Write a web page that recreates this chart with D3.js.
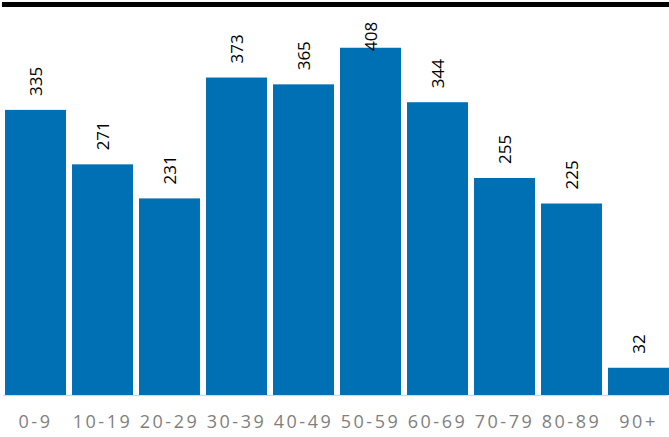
<!DOCTYPE html>
<html>
<head>
<meta charset="utf-8">
<script src="https://cdn.jsdelivr.net/npm/d3@7"></script>
<style>
  html, body { margin: 0; padding: 0; background: #fff; }
  svg { display: block; }
</style>
</head>
<body>
<svg id="chart" width="669" height="437"></svg>
<script>
const categories = ["0-9", "10-19", "20-29", "30-39", "40-49", "50-59", "60-69", "70-79", "80-89", "90+"];
const values = [335, 271, 231, 373, 365, 408, 344, 255, 225, 32];
const yDomain = [0, 450];

const W = 669, H = 437;
const svg = d3.select("#chart");

const x = d3.scaleBand()
  .domain(categories)
  .range([2, 672])
  .paddingInner(0.09)
  .paddingOuter(0.045);

const y = d3.scaleLinear().domain(yDomain).range([395, 12]);

// top black rule
svg.append("rect")
  .attr("x", 2).attr("y", 2).attr("width", W - 2).attr("height", 5)
  .attr("fill", "#000");

// baseline
svg.append("line")
  .attr("x1", 3).attr("x2", 668)
  .attr("y1", 395.5).attr("y2", 395.5)
  .attr("stroke", "#d9d9d9").attr("stroke-width", 1.5);

const data = categories.map((c, i) => ({ c, v: values[i] }));

// bars
svg.append("g").selectAll("rect")
  .data(data)
  .join("rect")
  .attr("x", d => x(d.c))
  .attr("y", d => y(d.v))
  .attr("width", x.bandwidth())
  .attr("height", d => y(0) - y(d.v))
  .attr("fill", "#0070b4");

// value labels
svg.append("g").selectAll("text")
  .data(data)
  .join("text")
  .attr("transform", d => {
    const ly = Math.max(y(d.v) - 14, 51);
    const lx = x(d.c) + x.bandwidth() / 2;
    return `translate(${lx},${ly}) rotate(-90)`;
  })
  .attr("dy", "0.36em")
  .attr("text-anchor", "start")
  .attr("font-family", "Open Sans, sans-serif")
  .attr("font-size", 17)
  .attr("fill", "#000")
  .text(d => d.v);

// category axis labels
const axis = d3.axisBottom(x).tickSize(0).tickPadding(0);
const gAxis = svg.append("g").attr("transform", "translate(0,414)").call(axis);
gAxis.select(".domain").remove();
gAxis.selectAll("text")
  .attr("font-family", "Open Sans, sans-serif")
  .attr("font-size", 18)
  .attr("fill", "#7f7f7f")
  .attr("letter-spacing", "2.5px")
  .attr("dy", "0.75em");
</script>
</body>
</html>
